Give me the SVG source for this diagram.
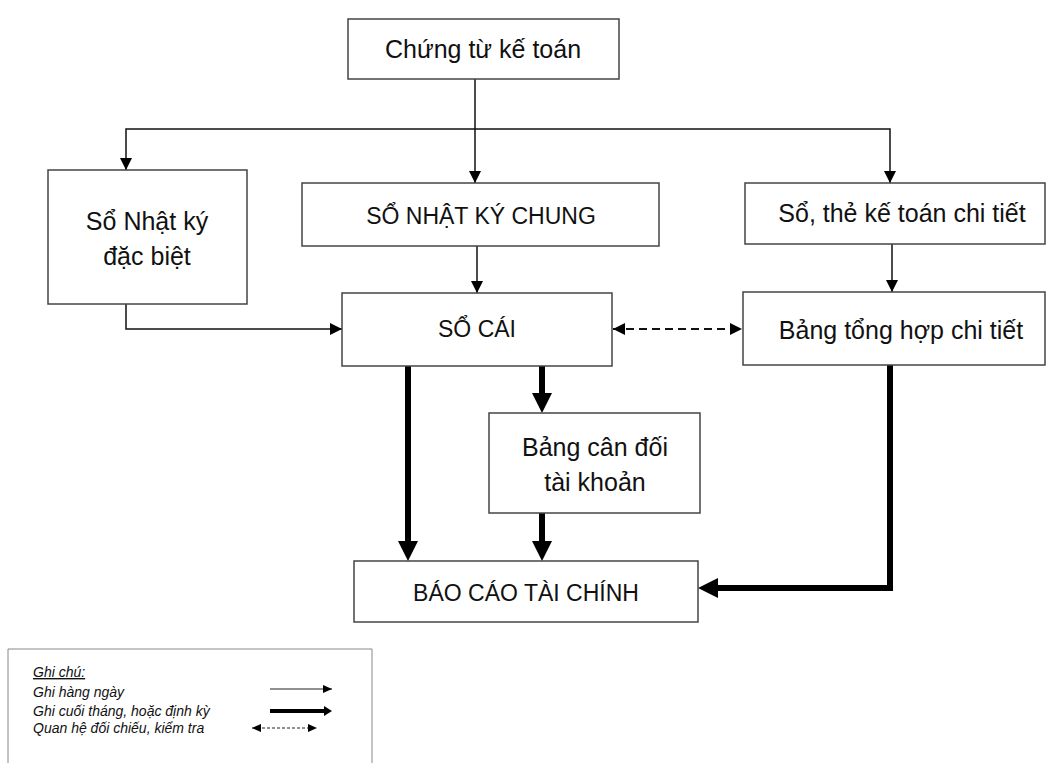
<svg xmlns="http://www.w3.org/2000/svg" width="1047" height="763" viewBox="0 0 1047 763">
<style>
.box{fill:#fff;stroke:#444;stroke-width:1.5}
.t{font-family:"Liberation Sans",Arial,sans-serif;font-size:25px;fill:#111;text-anchor:middle}
.cap{font-size:23px}
.thin{fill:none;stroke:#111;stroke-width:1.5}
.thick{fill:none;stroke:#000;stroke-width:6}
.dash{fill:none;stroke:#111;stroke-width:2;stroke-dasharray:8 5}
.leg{font-family:"Liberation Sans",Arial,sans-serif;font-size:14px;font-style:italic;fill:#111}
.lthin{fill:none;stroke:#222;stroke-width:1.2}
.lthick{fill:none;stroke:#000;stroke-width:4}
.ldash{fill:none;stroke:#222;stroke-width:1;stroke-dasharray:3 2}
</style>
<defs>
<marker id="ah" markerUnits="userSpaceOnUse" markerWidth="12" markerHeight="12" refX="12" refY="6" orient="auto-start-reverse"><path d="M0,0 L12,6 L0,12 z" fill="#000"/></marker>
<marker id="ahT" markerUnits="userSpaceOnUse" markerWidth="20" markerHeight="20" refX="0" refY="10" orient="auto"><path d="M0,0 L20,10 L0,20 z" fill="#000"/></marker>
<marker id="ahS" markerUnits="userSpaceOnUse" markerWidth="9" markerHeight="8" refX="9" refY="4" orient="auto-start-reverse"><path d="M0,0 L9,4 L0,8 z" fill="#000"/></marker>
<marker id="ahST" markerUnits="userSpaceOnUse" markerWidth="8" markerHeight="10" refX="0" refY="5" orient="auto"><path d="M0,0 L8,5 L0,10 z" fill="#000"/></marker>
</defs>

<g id="connectors">
<path class="thin" d="M475,79 V183" marker-end="url(#ah)"/>
<path class="thin" d="M126,170 V129 H890 V183" marker-start="url(#ah)" marker-end="url(#ah)"/>
<path class="thin" d="M477,246 V293" marker-end="url(#ah)"/>
<path class="thin" d="M126,304 V329 H342" marker-end="url(#ah)"/>
<path class="thin" d="M892,244 V292" marker-end="url(#ah)"/>
<path class="dash" d="M613,329 H742" marker-start="url(#ah)" marker-end="url(#ah)"/>
<path class="thick" d="M408,366 V541" marker-end="url(#ahT)"/>
<path class="thick" d="M542,366 V393" marker-end="url(#ahT)"/>
<path class="thick" d="M542,513 V541" marker-end="url(#ahT)"/>
<path class="thick" d="M890,365 V588 H718" marker-end="url(#ahT)"/>
</g>

<g id="chung-tu">
<rect class="box" x="348" y="19" width="271" height="60"/>
<text class="t" x="483" y="58">Chứng từ kế toán</text>
</g>
<g id="so-nhat-ky-dac-biet">
<rect class="box" x="48" y="170" width="199" height="134"/>
<text class="t" x="147" y="230">Sổ Nhật ký</text>
<text class="t" x="147" y="265">đặc biệt</text>
</g>
<g id="so-nhat-ky-chung">
<rect class="box" x="302" y="183" width="357" height="63"/>
<text class="t cap" x="481" y="224">SỔ NHẬT KÝ CHUNG</text>
</g>
<g id="so-the-chi-tiet">
<rect class="box" x="745" y="183" width="300" height="61"/>
<text class="t" x="902" y="222">Sổ, thẻ kế toán chi tiết</text>
</g>
<g id="so-cai">
<rect class="box" x="342" y="293" width="270" height="73"/>
<text class="t cap" x="477" y="337">SỔ CÁI</text>
</g>
<g id="bang-tong-hop">
<rect class="box" x="743" y="292" width="302" height="73"/>
<text class="t" x="901" y="339">Bảng tổng hợp chi tiết</text>
</g>
<g id="bang-can-doi">
<rect class="box" x="489" y="413" width="211" height="100"/>
<text class="t" x="595" y="456">Bảng cân đối</text>
<text class="t" x="595" y="491">tài khoản</text>
</g>
<g id="bao-cao">
<rect class="box" x="354" y="561" width="344" height="61"/>
<text class="t cap" x="526" y="601">BÁO CÁO TÀI CHÍNH</text>
</g>

<g id="legend">
<path d="M8,764 V649 H372 V764" fill="none" stroke="#888" stroke-width="1"/>
<text class="leg" x="33" y="677" text-decoration="underline">Ghi chú:</text>
<text class="leg" x="33" y="697">Ghi hàng ngày</text>
<text class="leg" x="33" y="716">Ghi cuối tháng, hoặc định kỳ</text>
<text class="leg" x="33" y="733">Quan hệ đối chiếu, kiểm tra</text>
<path class="lthin" d="M270,689 H332" marker-end="url(#ahS)"/>
<path class="lthick" d="M270,711 H324" marker-end="url(#ahST)"/>
<path class="ldash" d="M252,728 H317" marker-start="url(#ahS)" marker-end="url(#ahS)"/>
</g>
</svg>
